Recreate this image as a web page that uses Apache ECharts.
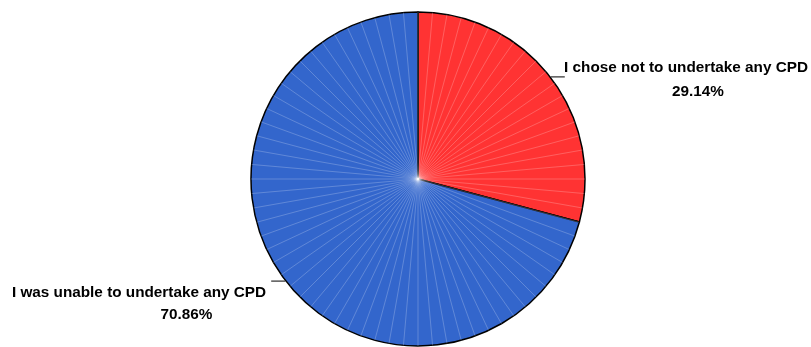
<!DOCTYPE html>
<html>
<head>
<meta charset="utf-8">
<script src="https://cdn.jsdelivr.net/npm/echarts@6/dist/echarts.min.js"></script>
<style>
  html, body { margin: 0; padding: 0; background: #fff; }
  #chart { width: 811px; height: 347px; }
</style>
</head>
<body>
<div id="chart"></div>
<script>
// Reasons for not undertaking CPD (share of respondents, %)
const categories = ['I chose not to undertake any CPD', 'I was unable to undertake any CPD'];
const shares = [29.14, 70.86];
const sliceColors = ['#ff3333', '#3366cc'];

const chart = echarts.init(document.getElementById('chart'));

const CENTER = [418, 179];
const RADIUS = 167;
const FONT = 15.3;

// where each two-line label sits: x is the centre of the name line
const labelSpots = [
  { x: 686, y: 80 },
  { x: 139, y: 304 }
];

chart.setOption({
  animation: false,
  backgroundColor: '#ffffff',
  textStyle: { fontFamily: 'Liberation Sans, Arial, sans-serif' },
  // faint radial facets across the disc
  polar: { center: CENTER, radius: RADIUS },
  angleAxis: {
    type: 'value', min: 0, max: 360, interval: 5, startAngle: 90, z: 5,
    axisLine: { show: false }, axisTick: { show: false }, axisLabel: { show: false },
    splitLine: { show: true, lineStyle: { color: 'rgba(255,255,255,0.22)', width: 1 } }
  },
  radiusAxis: {
    type: 'value', min: 0, max: 1, show: false,
    splitLine: { show: false }, axisLine: { show: false }
  },
  series: [{
    type: 'pie',
    center: CENTER,
    radius: RADIUS,
    startAngle: 90,
    clockwise: true,
    z: 2,
    itemStyle: { borderColor: '#000', borderWidth: 1.5 },
    label: {
      show: true,
      position: 'outside',
      color: '#000',
      align: 'center',
      overflow: 'none',
      formatter: p => p.dataIndex === 0
        ? '{n0|' + p.name + '}\n{v0|' + p.value.toFixed(2) + '%}'
        : '{n1|' + p.name + '}\n{v1|' + p.value.toFixed(2) + '%}',
      rich: {
        n0: { fontSize: FONT, fontWeight: 'bold', color: '#000', lineHeight: 24, align: 'center' },
        v0: { fontSize: FONT, fontWeight: 'bold', color: '#000', lineHeight: 24, align: 'center', padding: [0, 0, 0, 24] },
        n1: { fontSize: FONT, fontWeight: 'bold', color: '#000', lineHeight: 22, align: 'center' },
        v1: { fontSize: FONT, fontWeight: 'bold', color: '#000', lineHeight: 22, align: 'center', padding: [0, 0, 0, 95] }
      }
    },
    labelLine: { show: true, length: 0.5, length2: 14, lineStyle: { color: '#000', width: 1 } },
    labelLayout: p => {
      const out = {
        x: labelSpots[p.dataIndex].x,
        y: labelSpots[p.dataIndex].y,
        align: 'center',
        verticalAlign: 'middle'
      };
      // keep the short horizontal leader from the slice edge
      if (p.labelLinePoints) out.labelLinePoints = p.labelLinePoints;
      return out;
    },
    data: categories.map((c, i) => ({
      name: c,
      value: shares[i],
      itemStyle: { color: sliceColors[i] }
    }))
  }]
});
</script>
</body>
</html>
